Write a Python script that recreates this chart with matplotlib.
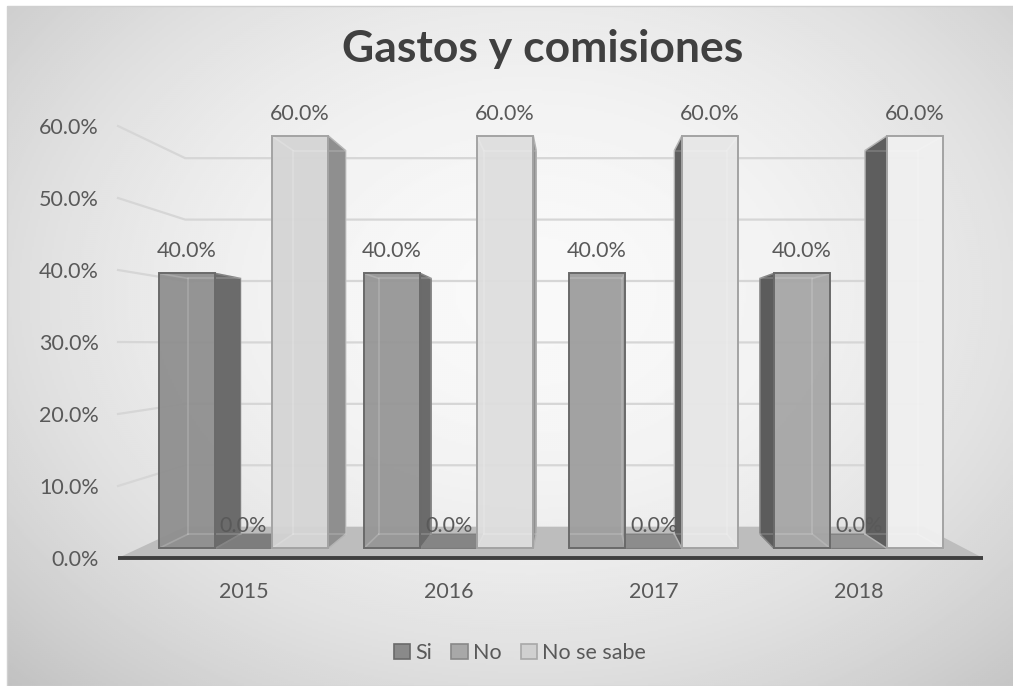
import matplotlib.pyplot as plt
import numpy as np
from matplotlib.patches import Patch, Polygon, Rectangle
from matplotlib.ticker import PercentFormatter

plt.rcParams["font.family"] = ["Lato", "DejaVu Sans"]

years = ["2015", "2016", "2017", "2018"]
series = ["Si", "No", "No se sabe"]
si = [0.40, 0.40, 0.40, 0.40]
no = [0.0, 0.0, 0.0, 0.0]
no_se_sabe = [0.60, 0.60, 0.60, 0.60]
y_ticks = [0.0, 0.1, 0.2, 0.3, 0.4, 0.5, 0.6]

# simple one-point perspective: depth is a scale factor towards the vanishing point
VX, VY = 1.617, 0.296
S_FRONT, S_BAR, S_BACK, S_WALL = 1.0, 0.955, 0.888, 0.853
X0, X1 = -0.512, 3.517
BAR_W = 0.2756

TEXT = "#595959"
GRID = "#d6d6d6"
FS = 15.5

# front colour at 2015, step per category (lighting), right side, left side, outline
STYLE = {
    "Si": dict(front=0.56, step=0.03, right=0.42, left=0.36, edge="#6a6a6a"),
    "No": dict(front=0.66, step=0.02, right=0.50, left=0.40, edge="#7a7a7a"),
    "No se sabe": dict(front=0.835, step=0.035, right=0.56, left=0.37, edge="#a3a3a3"),
}
LEGEND_FILL = {"Si": "#8a8a8a", "No": "#a8a8a8", "No se sabe": "#d0d0d0"}
LEGEND_EDGE = {"Si": "#6a6a6a", "No": "#888888", "No se sabe": "#a8a8a8"}
TOP_FACE = 0.49


def proj(x, y, s):
    return VX + (x - VX) * s, VY + (y - VY) * s


def gray(v):
    v = min(max(v, 0.0), 1.0)
    return (v, v, v)


def draw_box(ax, x0, x1, val, st, i):
    f = [proj(x0, 0, S_BAR), proj(x1, 0, S_BAR), proj(x1, val, S_BAR), proj(x0, val, S_BAR)]
    b = [proj(x0, 0, S_BACK), proj(x1, 0, S_BACK), proj(x1, val, S_BACK), proj(x0, val, S_BACK)]
    front_c = gray(st["front"] + st["step"] * i)

    if val < VY:
        top = [f[3], f[2], b[2], b[3]]
        ax.add_patch(Polygon(top, closed=True, fc=gray(TOP_FACE + 0.03 * i),
                             ec=st["edge"], lw=0.8, zorder=3))
    if x1 < VX:
        side = [f[1], b[1], b[2], f[2]]
        ax.add_patch(Polygon(side, closed=True, fc=gray(st["right"]),
                             ec=st["edge"], lw=1.0, zorder=3))
    if x0 > VX:
        side = [f[0], b[0], b[3], f[3]]
        ax.add_patch(Polygon(side, closed=True, fc=gray(st["left"]),
                             ec=st["edge"], lw=1.0, zorder=3))
    if val <= 0:
        return

    ax.add_patch(Polygon(f, closed=True, fc=front_c, ec="none", alpha=0.95, zorder=4))
    # hidden edges showing through the glassy front face
    for k in range(4):
        ax.plot([f[k][0], b[k][0]], [f[k][1], b[k][1]], color="white", alpha=0.18,
                lw=1.2, zorder=5)
    bx = [p[0] for p in b] + [b[0][0]]
    by = [p[1] for p in b] + [b[0][1]]
    ax.plot(bx, by, color="white", alpha=0.18, lw=1.2, zorder=5)
    ax.add_patch(Polygon(f, closed=True, fc="none", ec=st["edge"], lw=1.4, zorder=6))


fig = plt.figure(figsize=(10.13, 6.86), dpi=100)
fig.patch.set_facecolor("white")

# chart area with soft radial shading
bg = fig.add_axes([7 / 1013, 0, 1 - 7 / 1013, 680 / 686], zorder=0)
h, w = 340, 503
yy, xx = np.mgrid[0:h, 0:w]
r2 = ((xx - w * 0.52) / (w * 0.5)) ** 2 + ((yy - h * 0.42) / (h * 0.55)) ** 2
shade = np.clip(0.975 - 0.1 * r2, 0, 1)
bg.imshow(shade, cmap="gray", vmin=0, vmax=1, aspect="auto", interpolation="bilinear")
bg.axis("off")
fig.patches.append(Rectangle((7 / 1013, 0), 1, 680 / 686, transform=fig.transFigure,
                             fill=False, ec="#d0d0d0", lw=1.0, zorder=0.5))

ax = fig.add_axes([118 / 1013, 128 / 686, 865 / 1013, 432 / 686], zorder=1)
ax.patch.set_alpha(0)
ax.set_xlim(X0, X1)
ax.set_ylim(0, 0.6)
for sp in ax.spines.values():
    sp.set_visible(False)

# side wall and back wall gridlines
for t in y_ticks[1:]:
    a = proj(X0, t, S_FRONT)
    c = proj(X0, t, S_WALL)
    d = proj(X1, t, S_WALL)
    ax.plot([a[0], c[0], d[0]], [a[1], c[1], d[1]], color=GRID, lw=1.6,
            zorder=1, clip_on=False, solid_joinstyle="miter")

# floor
floor = [proj(X0, 0, S_FRONT), proj(X1, 0, S_FRONT), proj(X1, 0, S_WALL), proj(X0, 0, S_WALL)]
ax.add_patch(Polygon(floor, closed=True, fc="#bdbdbd", ec="none", zorder=2, clip_on=False))
p0, p1 = proj(X0, 0, S_FRONT), proj(X1, 0, S_FRONT)
ax.plot([p0[0], p1[0]], [p0[1], p1[1]], color="#3f3f3f", lw=2.8, zorder=7,
        clip_on=False, solid_capstyle="butt")

values = {"Si": si, "No": no, "No se sabe": no_se_sabe}
offsets = {"Si": -BAR_W, "No": 0.0, "No se sabe": BAR_W}

for i in range(len(years)):
    for name in ["No", "Si", "No se sabe"]:
        val = values[name][i]
        xc = i + offsets[name]
        draw_box(ax, xc - BAR_W / 2, xc + BAR_W / 2, val, STYLE[name], i)
        lx, ly = proj(xc, val, S_BAR)
        ax.annotate(f"{val:.1%}", (lx, ly), xytext=(0, 11.5), textcoords="offset points",
                    ha="center", va="baseline", fontsize=FS, color=TEXT, zorder=8,
                    annotation_clip=False)

ax.set_yticks(y_ticks)
ax.yaxis.set_major_formatter(PercentFormatter(1.0, decimals=1))
ax.set_xticks([proj(i, 0, S_BAR)[0] for i in range(len(years))])
ax.set_xticklabels(years)
ax.tick_params(axis="y", length=0, pad=14, labelsize=FS, labelcolor=TEXT)
ax.tick_params(axis="x", length=0, pad=17, labelsize=FS, labelcolor=TEXT)

fig.text(543 / 1013, 1 - 49 / 686, "Gastos y comisiones", ha="center", va="center",
         fontsize=32, fontweight="bold", color="#404040")

handles = [Patch(fc=LEGEND_FILL[n], ec=LEGEND_EDGE[n], lw=1.2, label=n) for n in series]
fig.legend(handles=handles, loc="center", bbox_to_anchor=(520 / 1013, 1 - 653 / 686),
           ncol=3, frameon=False, fontsize=FS, handlelength=0.75, handleheight=0.75,
           handletextpad=0.25, columnspacing=0.9, labelcolor=TEXT)

fig.savefig("out.png", dpi=100)
